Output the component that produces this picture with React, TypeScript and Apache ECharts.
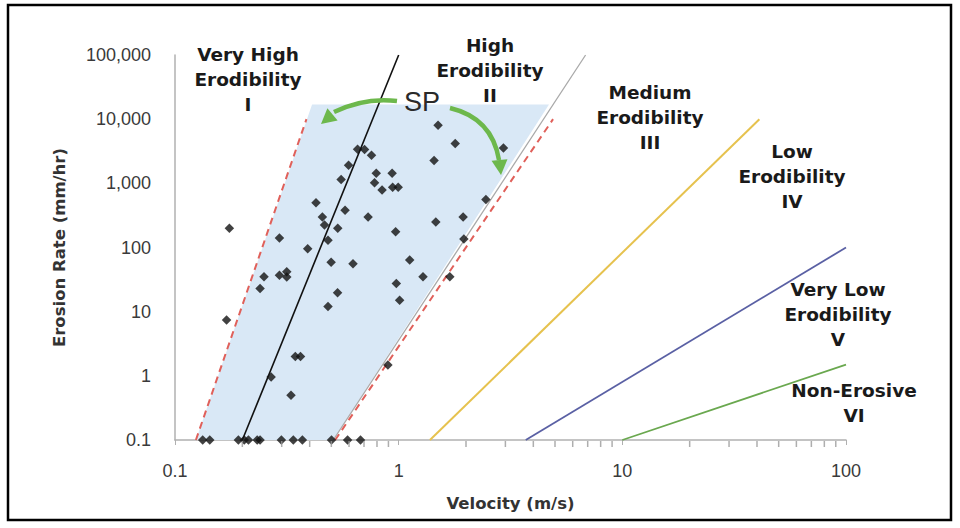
import React, { useEffect, useRef } from "react";
import * as echarts from "echarts";

// ---- Data ----
const velocity = [
  0.175, 0.17, 0.24, 0.25, 0.293, 0.316, 0.316, 0.293, 0.269, 0.33,
  0.345, 0.364, 0.392, 0.427, 0.456, 0.466, 0.483, 0.499, 0.534, 0.533,
  0.483, 0.576, 0.553, 0.597, 0.655, 0.704, 0.756, 0.625, 0.73, 0.794,
  0.935, 0.78, 0.843, 0.94, 0.995, 0.969, 1.12, 0.976, 1.01, 1.285,
  0.895, 1.44, 1.5, 1.79, 2.94, 2.455, 1.466, 1.942, 1.957, 1.693,
  0.133, 0.143, 0.192, 0.204, 0.213, 0.233, 0.24, 0.299, 0.338, 0.371,
  0.501, 0.591, 0.675,
];
const erosionRate = [
  200, 7.4, 23, 35, 37, 42, 34.6, 140, 0.96, 0.5,
  2, 2, 96, 500, 300, 225, 130, 59, 200, 19.7,
  12, 380, 1150, 1920, 3400, 3370, 2750, 56, 300, 1430,
  1440, 1020, 785, 870, 870, 176, 64, 27.6, 15, 35,
  1.47, 2260, 8070, 4180, 3540, 560, 250, 300, 136, 35,
  0.1, 0.1, 0.1, 0.1, 0.1, 0.1, 0.1, 0.1, 0.1, 0.1,
  0.1, 0.1, 0.1,
];

// Boundary / trend lines, as [x...] and [y...]
const spLineX = [0.2, 1];
const spLineY = [0.1, 100000];
const dashLeftX = [0.124, 0.387];
const dashLeftY = [0.1, 10000];
const dashRightX = [0.52, 4.9];
const dashRightY = [0.1, 10000];
const grayLineX = [0.51, 6.85];
const grayLineY = [0.1, 100000];
const mediumLineX = [1.38, 41];
const mediumLineY = [0.1, 10000];
const lowLineX = [3.7, 100];
const lowLineY = [0.1, 100];
const nonErosiveX = [10, 100];
const nonErosiveY = [0.1, 1.5];

// Shaded SP region vertices
const regionX = [0.124, 0.41, 4.7, 0.51];
const regionY = [0.1, 17000, 17000, 0.1];

// Axis extents & minor tick values (x axis)
const xMin = 0.1;
const xMax = 100;
const yMin = 0.1;
const yMax = 100000;
const xMinorTicks = [
  0.2, 0.3, 0.4, 0.5, 0.6, 0.7, 0.8, 0.9,
  2, 3, 4, 5, 6, 7, 8, 9,
  20, 30, 40, 50, 60, 70, 80, 90,
];

const zip = (xs: number[], ys: number[]) => xs.map((x, i) => [x, ys[i]]);

const fmtNum = (v: number) => {
  const r = Number(v.toPrecision(6));
  if (r >= 1000) return String(Math.round(r)).replace(/\B(?=(\d{3})+(?!\d))/g, ",");
  return String(r);
};

const BOLD_FONT = "DejaVu Sans";
const TICK_FONT = "Liberation Sans";

function zoneLabel(text: string, cx: number, top: number) {
  return {
    type: "text",
    x: cx,
    y: top,
    style: {
      text,
      x: 0,
      y: 0,
      align: "center",
      verticalAlign: "top",
      fontFamily: BOLD_FONT,
      fontWeight: "bold",
      fontSize: 18.5,
      lineHeight: 25,
      fill: "#1a1a1a",
    },
    z: 100,
  };
}

function arrowHead(tip: number[], dir: number[], len: number, half: number, color: string) {
  const n = Math.hypot(dir[0], dir[1]);
  const d = [dir[0] / n, dir[1] / n];
  const p = [-d[1], d[0]];
  const bc = [tip[0] - d[0] * len, tip[1] - d[1] * len];
  return {
    type: "polygon",
    shape: {
      points: [
        tip,
        [bc[0] + p[0] * half, bc[1] + p[1] * half],
        [bc[0] - p[0] * half, bc[1] - p[1] * half],
      ],
    },
    style: { fill: color },
    z: 90,
  };
}

export default function App() {
  const ref = useRef<HTMLDivElement>(null);

  useEffect(() => {
    if (!ref.current) return;
    const chart = echarts.init(ref.current, undefined, { renderer: "svg" });
    const green = "#6db84c";

    const lineSeries = (name: string, xs: number[], ys: number[], style: any, z = 3) => ({
      name,
      type: "line",
      data: zip(xs, ys),
      symbol: "none",
      showSymbol: false,
      lineStyle: style,
      z,
      silent: true,
    });

    chart.setOption({
      animation: false,
      backgroundColor: "#ffffff",
      grid: { left: 175, right: 114, top: 55, bottom: 88, containLabel: false },
      xAxis: {
        type: "log",
        logBase: 10,
        min: xMin,
        max: xMax,
        name: "Velocity (m/s)",
        nameLocation: "middle",
        nameGap: 55,
        nameTextStyle: {
          fontFamily: BOLD_FONT,
          fontWeight: "bold",
          fontSize: 16.5,
          color: "#333",
        },
        axisLine: { show: true, lineStyle: { color: "#b0b0b0", width: 1.5 } },
        axisTick: { show: true, length: 5, inside: false, lineStyle: { color: "#b0b0b0" } },
        minorTick: { show: false },
        splitLine: { show: false },
        axisLabel: {
          formatter: (v: number) => fmtNum(v),
          fontFamily: TICK_FONT,
          fontSize: 18,
          color: "#3a3a3a",
          margin: 22,
        },
      },
      yAxis: {
        type: "log",
        logBase: 10,
        min: yMin,
        max: yMax,
        splitNumber: 6,
        name: "Erosion Rate (mm/hr)",
        nameLocation: "middle",
        nameRotate: 90,
        nameGap: 107,
        nameTextStyle: {
          fontFamily: BOLD_FONT,
          fontWeight: "bold",
          fontSize: 16.5,
          color: "#333",
        },
        axisLine: { show: true, lineStyle: { color: "#b0b0b0", width: 1.5 } },
        axisTick: { show: false },
        splitLine: { show: false },
        axisLabel: {
          formatter: (v: number) => fmtNum(v),
          fontFamily: TICK_FONT,
          fontSize: 18,
          color: "#3a3a3a",
          margin: 24,
        },
      },
      series: [
        {
          name: "SP region",
          type: "custom",
          silent: true,
          z: 1,
          data: [[1, 1]],
          renderItem: (_params: any, api: any) => ({
            type: "polygon",
            shape: { points: zip(regionX, regionY).map((p) => api.coord(p)) },
            style: { fill: "#d9e8f6" },
          }),
        },
        lineSeries("Boundary II/III", grayLineX, grayLineY, { color: "#a8a8a8", width: 1.3 }),
        lineSeries("Upper bound", dashLeftX, dashLeftY, { color: "#e0605a", width: 2, type: [7, 5] }),
        lineSeries("Lower bound", dashRightX, dashRightY, { color: "#e0605a", width: 2, type: [7, 5] }),
        lineSeries("SP trend", spLineX, spLineY, { color: "#111", width: 1.6 }, 4),
        lineSeries("Medium/Low", mediumLineX, mediumLineY, { color: "#e6c24e", width: 2 }),
        lineSeries("Low/Very Low", lowLineX, lowLineY, { color: "#5a60a4", width: 1.8 }),
        lineSeries("Very Low/Non-Erosive", nonErosiveX, nonErosiveY, { color: "#6aa84f", width: 1.8 }),
        {
          name: "Samples",
          type: "scatter",
          data: zip(velocity, erosionRate),
          symbol: "diamond",
          symbolSize: 9.5,
          itemStyle: { color: "#111" },
          z: 6,
          silent: true,
        },
        {
          name: "minor ticks",
          type: "scatter",
          data: xMinorTicks.map((x) => [x, yMin]),
          symbol: "rect",
          symbolSize: [1.5, 6],
          symbolOffset: [0, 4],
          clip: false,
          itemStyle: { color: "#9a9a9a" },
          z: 7,
          silent: true,
        },
      ],
      graphic: [
        {
          type: "rect",
          shape: { x: 8, y: 5, width: 943, height: 515 },
          style: { fill: "none", stroke: "#000", lineWidth: 2.5 },
          z: 100,
          silent: true,
        },
        zoneLabel("Very High\nErodibility\nI", 248, 42),
        zoneLabel("High\nErodibility\nII", 490, 33),
        zoneLabel("Medium\nErodibility\nIII", 650, 80),
        zoneLabel("Low\nErodibility\nIV", 792, 139),
        zoneLabel("Very Low\nErodibility\nV", 838, 277),
        zoneLabel("Non-Erosive\nVI", 854, 378),
        {
          type: "text",
          x: 422,
          y: 102,
          style: {
            text: "SP",
            align: "center",
            verticalAlign: "middle",
            fontFamily: TICK_FONT,
            fontSize: 27,
            fill: "#2a2a2a",
          },
          z: 100,
        },
        {
          type: "bezierCurve",
          shape: { x1: 397, y1: 101, cpx1: 365, cpy1: 97, x2: 334, y2: 112 },
          style: { stroke: green, lineWidth: 4.5, fill: "none" },
          z: 90,
        },
        arrowHead([321, 124], [-1.2, 1], 15, 8, green),
        {
          type: "bezierCurve",
          shape: { x1: 450, y1: 108, cpx1: 492, cpy1: 118, x2: 499, y2: 160 },
          style: { stroke: green, lineWidth: 4.5, fill: "none" },
          z: 90,
        },
        arrowHead([501, 175], [0.1, 1], 15, 8, green),
      ],
    });

    return () => chart.dispose();
  }, []);

  return (
    <div
      ref={ref}
      style={{ position: "absolute", left: 0, top: 0, width: 960, height: 528, background: "#fff" }}
    />
  );
}
